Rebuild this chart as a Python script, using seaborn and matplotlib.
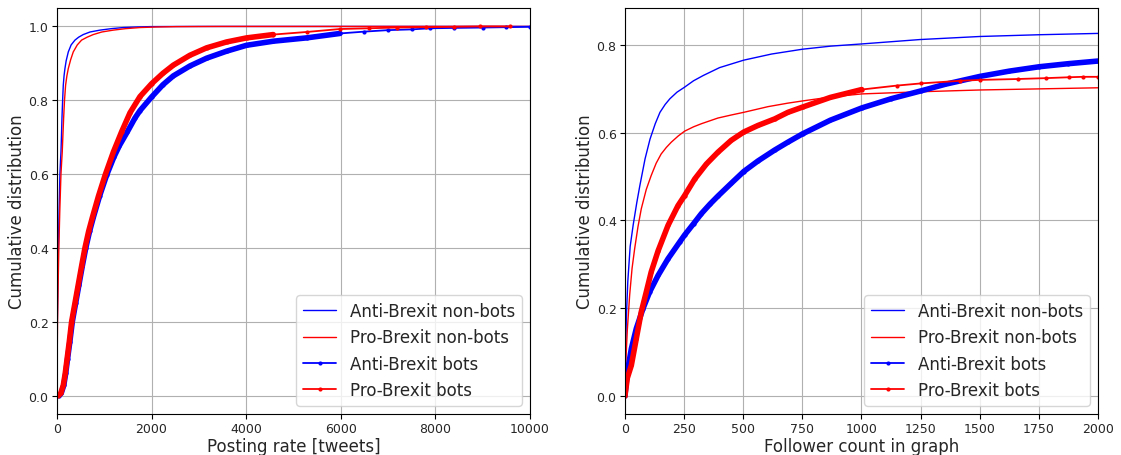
import numpy as np
import matplotlib
matplotlib.use("Agg")
import matplotlib.pyplot as plt
from matplotlib.lines import Line2D
import seaborn as sns

# ---- Posting rate CDFs (left panel) ----
rate_anti_nonbots_x = [0, 3, 8, 18, 30, 45, 63, 75, 85, 96, 106, 120, 134, 150, 169, 195, 240, 300, 381, 460,
                       556, 700, 909, 1150, 1402, 1700, 1966, 2500, 3000, 10000]
rate_anti_nonbots_y = [0.0, 0.1, 0.2, 0.3, 0.4, 0.5, 0.6, 0.635, 0.66, 0.705, 0.751, 0.80, 0.841, 0.866, 0.886,
                       0.907, 0.931, 0.950, 0.963, 0.971, 0.978, 0.985, 0.990, 0.994, 0.997, 0.9985, 0.9995,
                       0.9998, 1.0, 1.0]

rate_pro_nonbots_x = [0, 5, 12, 25, 40, 60, 85, 98, 112, 126, 141, 160, 183, 210, 240, 290, 345, 430, 521, 640,
                      768, 950, 1191, 1450, 1755, 2100, 2530, 3500, 10000]
rate_pro_nonbots_y = [0.0, 0.1, 0.2, 0.3, 0.4, 0.5, 0.6, 0.63, 0.66, 0.705, 0.751, 0.80, 0.841, 0.866, 0.886,
                      0.910, 0.931, 0.950, 0.963, 0.971, 0.978, 0.985, 0.990, 0.994, 0.997, 0.9985, 0.9995,
                      1.0, 1.0]

rate_anti_bots_x = [40, 90, 145, 185, 225, 272, 325, 395, 465, 535, 610, 690, 770, 900, 1050, 1200, 1320, 1490,
                    1650, 1755, 2002, 2240, 2459, 2812, 3164, 3587, 4010, 4573, 5278, 5983, 6500, 7000, 7500,
                    7886, 8400, 9000, 9500, 10000]
rate_anti_bots_y = [0.0, 0.006, 0.028, 0.06, 0.1, 0.145, 0.2, 0.25, 0.3, 0.35, 0.4, 0.445, 0.483, 0.54, 0.597,
                    0.645, 0.677, 0.715, 0.752, 0.772, 0.809, 0.842, 0.866, 0.893, 0.914, 0.933, 0.949, 0.960,
                    0.969, 0.981, 0.986, 0.99, 0.992, 0.995, 0.996, 0.997, 0.998, 0.999]

rate_pro_bots_x = [30, 80, 134, 175, 215, 260, 310, 380, 450, 520, 592, 670, 750, 877, 1018, 1193, 1368, 1544,
                   1755, 2002, 2240, 2459, 2812, 3164, 3587, 4010, 4573, 5278, 5983, 6600, 7181, 7800, 8400,
                   8950, 9580]
rate_pro_bots_y = [0.0, 0.006, 0.028, 0.06, 0.1, 0.145, 0.2, 0.25, 0.3, 0.35, 0.4, 0.445, 0.483, 0.54, 0.597,
                   0.66, 0.715, 0.766, 0.810, 0.845, 0.873, 0.895, 0.922, 0.942, 0.958, 0.969, 0.978, 0.985,
                   0.993, 0.995, 0.997, 0.998, 0.999, 1.0, 1.0]

# ---- Follower count CDFs (right panel) ----
foll_anti_nonbots_x = [0, 2, 6, 12, 22, 35, 50, 63, 85, 106, 128, 148, 170, 190, 220, 251, 290, 331, 400, 502,
                       620, 751, 870, 1001, 1247, 1501, 1752, 2000]
foll_anti_nonbots_y = [0.0, 0.08, 0.18, 0.26, 0.34, 0.39, 0.44, 0.479, 0.54, 0.585, 0.62, 0.646, 0.664, 0.677,
                       0.692, 0.703, 0.718, 0.730, 0.748, 0.765, 0.779, 0.790, 0.797, 0.802, 0.812, 0.819,
                       0.823, 0.826]

foll_pro_nonbots_x = [0, 3, 10, 20, 30, 41, 55, 69, 90, 111, 132, 153, 175, 196, 225, 252, 290, 323, 393, 450,
                      502, 605, 689, 751, 870, 1001, 1252, 1501, 2000]
foll_pro_nonbots_y = [0.0, 0.07, 0.15, 0.23, 0.29, 0.335, 0.385, 0.426, 0.47, 0.502, 0.53, 0.551, 0.566, 0.578,
                      0.592, 0.603, 0.613, 0.620, 0.633, 0.640, 0.646, 0.659, 0.667, 0.672, 0.681, 0.688,
                      0.693, 0.697, 0.702]

foll_anti_bots_x = [0, 10, 27, 48, 76, 104, 140, 182, 231, 252, 290, 323, 360, 393, 449, 502, 562, 633, 689, 751,
                    868, 1001, 1125, 1252, 1354, 1501, 1625, 1752, 1875, 2000]
foll_anti_bots_y = [0.0, 0.054, 0.107, 0.153, 0.198, 0.236, 0.274, 0.312, 0.350, 0.366, 0.392, 0.415, 0.437,
                    0.455, 0.484, 0.511, 0.535, 0.560, 0.578, 0.597, 0.628, 0.656, 0.677, 0.695, 0.710, 0.728,
                    0.740, 0.750, 0.757, 0.763]

foll_pro_bots_x = [0, 10, 27, 48, 69, 90, 111, 140, 182, 224, 252, 295, 344, 393, 449, 502, 562, 633, 689, 751,
                   868, 1001, 1149, 1252, 1417, 1501, 1660, 1780, 1877, 1935, 2000]
foll_pro_bots_y = [0.0, 0.04, 0.069, 0.13, 0.191, 0.236, 0.282, 0.33, 0.388, 0.433, 0.456, 0.494, 0.528, 0.555,
                   0.582, 0.601, 0.616, 0.631, 0.646, 0.658, 0.680, 0.698, 0.707, 0.712, 0.718, 0.720, 0.722,
                   0.724, 0.726, 0.727, 0.727]

labels = ["Anti-Brexit non-bots", "Pro-Brexit non-bots", "Anti-Brexit bots", "Pro-Brexit bots"]
ANTI, PRO = "#0000ff", "#ff0000"

sns.set_style("ticks", {"axes.grid": True, "grid.color": "#b0b0b0", "axes.edgecolor": "black",
                        "xtick.direction": "out", "ytick.direction": "out"})
plt.rcParams["font.family"] = ["DejaVu Sans"]
plt.rcParams["grid.linewidth"] = 0.8
plt.rcParams["axes.linewidth"] = 0.8


def draw_nonbots(ax, x, y, color, label):
    sns.lineplot(x=x, y=y, ax=ax, color=color, linewidth=1.0, label=label,
                 sort=False, estimator=None)


def draw_bots(ax, x, y, color, label, dense_upto):
    xs, ys = np.asarray(x, float), np.asarray(y, float)
    dense = xs <= dense_upto
    # the closely packed samples read as a solid thick band
    sns.lineplot(x=xs[dense], y=ys[dense], ax=ax, color=color, linewidth=4.0,
                 sort=False, estimator=None, solid_capstyle="round", solid_joinstyle="round")
    sns.lineplot(x=xs, y=ys, ax=ax, color=color, linewidth=1.3, marker="o", markersize=3,
                 markeredgewidth=0, label=label, sort=False, estimator=None)


fig = plt.figure(figsize=(11.21, 4.56), dpi=100)
ax1 = fig.add_axes([0.0508, 0.0899, 0.4220, 0.8904])
ax2 = fig.add_axes([0.5575, 0.0899, 0.4220, 0.8904])

draw_nonbots(ax1, rate_anti_nonbots_x, rate_anti_nonbots_y, ANTI, labels[0])
draw_nonbots(ax1, rate_pro_nonbots_x, rate_pro_nonbots_y, PRO, labels[1])
draw_bots(ax1, rate_anti_bots_x, rate_anti_bots_y, ANTI, labels[2], 6000)
draw_bots(ax1, rate_pro_bots_x, rate_pro_bots_y, PRO, labels[3], 4600)
ax1.set_xlim(0, 10000)
ax1.set_ylim(-0.05, 1.05)
ax1.set_xticks([0, 2000, 4000, 6000, 8000, 10000])
ax1.set_xlabel("Posting rate [tweets]", fontsize=12, labelpad=1)

draw_nonbots(ax2, foll_anti_nonbots_x, foll_anti_nonbots_y, ANTI, labels[0])
draw_nonbots(ax2, foll_pro_nonbots_x, foll_pro_nonbots_y, PRO, labels[1])
draw_bots(ax2, foll_anti_bots_x, foll_anti_bots_y, ANTI, labels[2], 2000)
draw_bots(ax2, foll_pro_bots_x, foll_pro_bots_y, PRO, labels[3], 1100)
ax2.set_xlim(0, 2000)
ax2.set_ylim(-0.042, 0.884)
ax2.set_xticks(np.arange(0, 2001, 250))
ax2.set_yticks([0.0, 0.2, 0.4, 0.6, 0.8])
ax2.set_xlabel("Follower count in graph", fontsize=12, labelpad=1)

for ax in (ax1, ax2):
    ax.set_ylabel("Cumulative distribution", fontsize=12, labelpad=2)
    ax.tick_params(labelsize=9, length=3.5, width=0.8, color="black", pad=2.5)
    ax.yaxis.set_major_formatter(matplotlib.ticker.FormatStrFormatter("%.1f"))
    ax.grid(True, color="#b0b0b0", linewidth=0.8)
    for s in ax.spines.values():
        s.set_color("black")
        s.set_linewidth(0.8)
    handles = [Line2D([], [], color=ANTI, lw=1.0), Line2D([], [], color=PRO, lw=1.0),
               Line2D([], [], color=ANTI, lw=1.3, marker="o", markersize=3, markeredgewidth=0),
               Line2D([], [], color=PRO, lw=1.3, marker="o", markersize=3, markeredgewidth=0)]
    ax.legend(handles, labels, loc="lower right", fontsize=12, framealpha=0.8,
              edgecolor="#cccccc", fancybox=True)

fig.savefig("out.png", dpi=100)
